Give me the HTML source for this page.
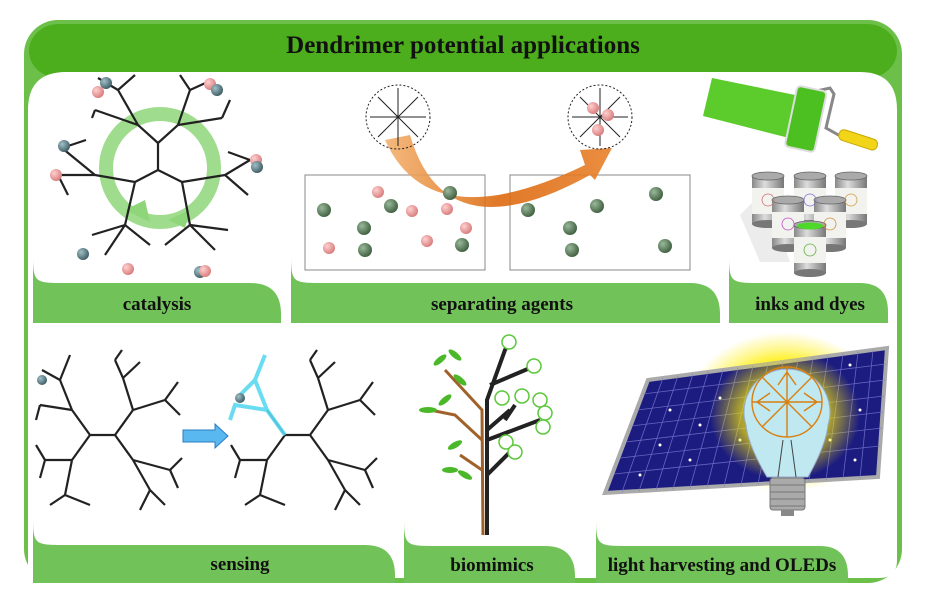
<!DOCTYPE html>
<html><head><meta charset="utf-8"><style>
html,body{margin:0;padding:0;background:#fff;}
svg{display:block;font-family:"Liberation Serif",serif;font-weight:bold;}
</style></head><body>
<svg width="926" height="594" viewBox="0 0 926 594" xmlns="http://www.w3.org/2000/svg">
<defs>
<radialGradient id="glow" cx="0.5" cy="0.5" r="0.5">
<stop offset="0" stop-color="#ffff30" stop-opacity="1"/>
<stop offset="0.6" stop-color="#ffee00" stop-opacity="0.85"/>
<stop offset="1" stop-color="#ffee00" stop-opacity="0"/>
</radialGradient>
<linearGradient id="org" x1="0" y1="0" x2="1" y2="0">
<stop offset="0" stop-color="#f3b270"/><stop offset="0.5" stop-color="#dc6a10"/><stop offset="1" stop-color="#e8802a"/>
</linearGradient>
<linearGradient id="can" x1="0" y1="0" x2="1" y2="0">
<stop offset="0" stop-color="#888"/><stop offset="0.4" stop-color="#ddd"/><stop offset="1" stop-color="#777"/>
</linearGradient>
<radialGradient id="gb" cx="0.35" cy="0.35" r="0.7"><stop offset="0" stop-color="#9ab89a"/><stop offset="1" stop-color="#3e5e3e"/></radialGradient>
<radialGradient id="pb" cx="0.35" cy="0.35" r="0.7"><stop offset="0" stop-color="#ffd0d0"/><stop offset="1" stop-color="#d77a7a"/></radialGradient>
<radialGradient id="tb" cx="0.35" cy="0.35" r="0.7"><stop offset="0" stop-color="#a0c0c8"/><stop offset="1" stop-color="#3d5a62"/></radialGradient>
<g id="can1">
<rect x="-16" y="0" width="32" height="48" fill="url(#can)"/>
<rect x="-16" y="12" width="32" height="26" fill="#f2f2ee"/>
<ellipse cx="0" cy="0" rx="16" ry="4" fill="#aaa" stroke="#666" stroke-width="0.8"/>
<ellipse cx="0" cy="48" rx="16" ry="4" fill="#777"/>
</g>
</defs>
<!-- frame -->
<rect x="24" y="20" width="878" height="563" rx="34" fill="#6cc04a"/>
<rect x="29" y="24" width="868" height="54" rx="30" fill="#4cae1c"/>
<path d="M28,110 Q28,72 66,72 L860,72 Q897,72 897,110 L897,560 Q897,578 879,578 L28,578 Z" fill="#fff"/>
<text x="463" y="53" text-anchor="middle" font-size="25" fill="#111">Dendrimer potential applications</text>

<!-- tabs -->
<g fill="#72c25a">
<path d="M33,250 C33,283 33,283 66,283 L250,283 Q281,283 281,314 L281,323 L33,323 Z"/>
<path d="M291,250 C291,283 291,283 324,283 L690,283 Q720,283 720,314 L720,323 L291,323 Z"/>
<path d="M729,250 C729,283 729,283 762,283 L860,283 Q888,283 888,312 L888,323 L729,323 Z"/>
<path d="M33,512 C33,545 33,545 66,545 L365,545 Q395,545 395,575 L395,583 L33,583 Z"/>
<path d="M404,512 C404,546 404,546 437,546 L545,546 Q575,546 575,576 L575,583 L404,583 Z"/>
<path d="M596,512 C596,546 596,546 629,546 L820,546 Q848,546 848,576 L848,583 L596,583 Z"/>
</g>
<g font-size="19" fill="#111" text-anchor="middle">
<text x="157" y="310">catalysis</text>
<text x="502" y="310">separating agents</text>
<text x="810" y="310">inks and dyes</text>
<text x="240" y="570">sensing</text>
<text x="492" y="571">biomimics</text>
<text x="722" y="571">light harvesting and OLEDs</text>
</g>

<!-- catalysis -->
<circle cx="160" cy="168" r="54" fill="none" stroke="#8fd67a" stroke-width="14" opacity="0.85"/>
<path d="M125,210 L150,222 L145,200 Z M168,220 L190,210 L185,228 Z" fill="#8fd67a"/>
<g stroke="#222" stroke-width="2.2" fill="none">
<path d="M158,143 L158,170 M158,143 L138,125 M158,143 L178,125 M158,170 L135,182 M158,170 L182,182"/>
<path d="M138,125 L118,90 M138,125 L95,110 M118,90 L98,78 M118,90 L135,75 M95,110 L92,118"/>
<path d="M178,125 L190,90 M178,125 L222,118 M190,90 L212,80 M190,90 L180,75 M222,118 L230,100"/>
<path d="M135,182 L95,175 M135,182 L125,225 M95,175 L62,148 M95,175 L58,175 M62,148 L86,140 M58,175 L68,195"/>
<path d="M182,182 L225,175 M182,182 L190,225 M225,175 L250,160 M225,175 L248,195 M250,160 L228,152"/>
<path d="M125,225 L92,235 M125,225 L105,255 M125,225 L150,245 M190,225 L165,245 M190,225 L215,250 M190,225 L228,230"/>
</g>
<g>
<circle cx="106" cy="83" r="6" fill="url(#tb)"/><circle cx="98" cy="92" r="6" fill="url(#pb)"/>
<circle cx="210" cy="84" r="6" fill="url(#pb)"/><circle cx="217" cy="90" r="6" fill="url(#tb)"/>
<circle cx="64" cy="146" r="6" fill="url(#tb)"/><circle cx="56" cy="175" r="6" fill="url(#pb)"/>
<circle cx="256" cy="160" r="6" fill="url(#pb)"/><circle cx="257" cy="167" r="6" fill="url(#tb)"/>
<circle cx="83" cy="254" r="6" fill="url(#tb)"/><circle cx="128" cy="269" r="6" fill="url(#pb)"/>
<circle cx="200" cy="272" r="6" fill="url(#tb)"/><circle cx="205" cy="271" r="6" fill="url(#pb)"/>
</g>

<!-- separating -->
<rect x="305" y="175" width="180" height="95" fill="none" stroke="#888" stroke-width="1"/>
<rect x="510" y="175" width="180" height="95" fill="none" stroke="#888" stroke-width="1"/>
<path d="M385,140 Q430,240 585,165 L580,150 L612,148 L595,180 L590,175 Q445,255 410,135 Z" fill="url(#org)" opacity="0.9"/>
<g stroke="#222" stroke-width="1" fill="none">
<circle cx="398" cy="117" r="32" stroke-dasharray="2 2"/>
<circle cx="600" cy="117" r="32" stroke-dasharray="2 2"/>
<path d="M398,117 L398,88 M398,117 L370,117 M398,117 L426,117 M398,117 L398,146 M398,117 L378,97 M398,117 L418,97 M398,117 L378,137 M398,117 L418,137"/>
<path d="M600,117 L600,88 M600,117 L572,117 M600,117 L628,117 M600,117 L600,146 M600,117 L580,97 M600,117 L620,97 M600,117 L580,137 M600,117 L620,137"/>
</g>
<circle cx="593" cy="108" r="6" fill="url(#pb)"/><circle cx="608" cy="115" r="6" fill="url(#pb)"/><circle cx="598" cy="130" r="6" fill="url(#pb)"/>
<g fill="url(#gb)">
<circle cx="324" cy="210" r="7"/><circle cx="364" cy="228" r="7"/><circle cx="365" cy="250" r="7"/><circle cx="391" cy="206" r="7"/><circle cx="450" cy="193" r="7"/><circle cx="462" cy="245" r="7"/>
<circle cx="528" cy="210" r="7"/><circle cx="597" cy="206" r="7"/><circle cx="656" cy="194" r="7"/><circle cx="570" cy="228" r="7"/><circle cx="572" cy="250" r="7"/><circle cx="665" cy="246" r="7"/>
</g>
<g fill="url(#pb)">
<circle cx="378" cy="192" r="6"/><circle cx="412" cy="211" r="6"/><circle cx="329" cy="248" r="6"/><circle cx="427" cy="241" r="6"/><circle cx="447" cy="209" r="6"/><circle cx="466" cy="228" r="6"/>
</g>

<!-- inks: roller -->
<polygon points="712,78 800,96 797,140 703,116" fill="#5ccc2c"/>
<path d="M812,92 L830,88 L834,94 L826,128 L842,137" stroke="#888" stroke-width="3" fill="none"/>
<g transform="rotate(12 806 118)">
<rect x="791" y="88" width="30" height="62" rx="4" fill="#4cc020" stroke="#ddd" stroke-width="2"/>
</g>
<g transform="rotate(18 857 140)">
<rect x="838" y="134" width="40" height="11" rx="5" fill="#f2d418" stroke="#c8a800" stroke-width="1"/>
</g>
<!-- cans -->
<polygon points="765,190 740,215 760,262 790,262" fill="#e4e4e4" opacity="0.7"/>
<use href="#can1" x="768" y="176"/>
<use href="#can1" x="810" y="176"/>
<use href="#can1" x="851" y="176"/>
<use href="#can1" x="788" y="200"/>
<use href="#can1" x="830" y="200"/>
<use href="#can1" x="810" y="225"/>
<ellipse cx="810" cy="226" rx="13" ry="3.5" fill="#4ed82a"/>
<g fill="none" stroke-width="0.8">
<circle cx="768" cy="200" r="6" stroke="#d07070"/><circle cx="810" cy="200" r="6" stroke="#8070d0"/><circle cx="851" cy="200" r="6" stroke="#d0a040"/>
<circle cx="788" cy="224" r="6" stroke="#c050c0"/><circle cx="830" cy="224" r="6" stroke="#d09040"/><circle cx="810" cy="250" r="6" stroke="#60b040"/>
</g>

<!-- sensing -->
<g stroke="#222" stroke-width="2.2" fill="none">
<path d="M90,435 L115,435 M90,435 L72,410 M90,435 L72,460 M115,435 L133,410 M115,435 L133,460"/>
<path d="M72,410 L60,380 M72,410 L40,405 M60,380 L42,370 M60,380 L70,355 M40,405 L36,420 M72,460 L45,460 M72,460 L65,495 M45,460 L36,445 M45,460 L40,478 M65,495 L50,505 M65,495 L90,505"/>
<path d="M133,410 L123,378 M133,410 L165,400 M123,378 L115,360 M123,378 L140,362 M165,400 L178,382 M165,400 L180,415 M133,460 L150,490 M133,460 L170,470 M150,490 L140,510 M150,490 L165,505 M170,470 L182,458 M170,470 L178,488 M115,360 L122,350"/>
<g transform="translate(195 0)">
<path d="M90,435 L115,435 M90,435 L72,410 M90,435 L72,460 M115,435 L133,410 M115,435 L133,460"/>
<path d="M72,460 L45,460 M72,460 L65,495 M45,460 L36,445 M45,460 L40,478 M65,495 L50,505 M65,495 L90,505"/>
<path d="M133,410 L123,378 M133,410 L165,400 M123,378 L115,360 M123,378 L140,362 M165,400 L178,382 M165,400 L180,415 M133,460 L150,490 M133,460 L170,470 M150,490 L140,510 M150,490 L165,505 M170,470 L182,458 M170,470 L178,488 M115,360 L122,350"/>
</g>
</g>
<g stroke="#5ad8f0" stroke-width="4" fill="none" opacity="0.9">
<path d="M285,435 L267,410 L255,380 L240,395 M255,380 L265,355 M267,410 L235,405 L230,420"/>
</g>
<circle cx="42" cy="380" r="5" fill="url(#tb)"/><circle cx="240" cy="398" r="5" fill="url(#tb)"/>
<path d="M183,430 L215,430 L215,424 L228,436 L215,448 L215,442 L183,442 Z" fill="#5ab8f0" stroke="#2a7cc0" stroke-width="1"/>

<!-- biomimics -->
<path d="M483,535 L482,410 L445,370 M482,440 L455,415 L430,410 M482,470 L460,455" stroke="#a0622a" stroke-width="3" fill="none"/>
<path d="M487,535 L487,400 L505,350 L508,345 M490,385 L530,368 M487,430 L510,410 M487,440 L540,420 M505,420 L515,405 M487,475 L512,450" stroke="#222" stroke-width="4" fill="none"/>
<g fill="#4ab828">
<ellipse cx="440" cy="360" rx="8" ry="3" transform="rotate(-40 440 360)"/><ellipse cx="455" cy="355" rx="8" ry="3" transform="rotate(40 455 355)"/>
<ellipse cx="428" cy="410" rx="9" ry="3"/><ellipse cx="445" cy="400" rx="8" ry="3" transform="rotate(-40 445 400)"/>
<ellipse cx="460" cy="380" rx="8" ry="3" transform="rotate(40 460 380)"/><ellipse cx="455" cy="445" rx="8" ry="3" transform="rotate(-30 455 445)"/>
<ellipse cx="465" cy="475" rx="8" ry="3" transform="rotate(30 465 475)"/><ellipse cx="450" cy="470" rx="8" ry="3"/>
</g>
<g fill="#fff" stroke="#5ac83a" stroke-width="1.5">
<circle cx="509" cy="342" r="7"/><circle cx="534" cy="366" r="7"/><circle cx="502" cy="398" r="7"/><circle cx="522" cy="396" r="7"/><circle cx="540" cy="400" r="7"/><circle cx="545" cy="413" r="7"/><circle cx="543" cy="427" r="7"/><circle cx="506" cy="442" r="7"/><circle cx="515" cy="452" r="7"/>
</g>

<!-- light harvesting -->
<ellipse cx="785" cy="412" rx="100" ry="80" fill="url(#glow)"/>
<polygon points="648,380 887,348 878,477 605,493" fill="#1c1c80" stroke="#aaa" stroke-width="4"/>
<g stroke="#7878d0" stroke-width="0.8" opacity="0.8">
<path d="M663,378 L622,492 M678,376 L639,491 M693,374 L656,490 M708,372 L673,489 M723,370 L690,488 M738,368 L707,487 M753,366 L724,486 M768,364 L741,485 M783,362 L758,484 M798,360 L775,483 M813,358 L792,482 M828,356 L809,481 M843,354 L826,480 M858,352 L843,479 M873,350 L860,478"/>
<path d="M643,394 L886,364 M637,410 L885,380 M631,426 L884,396 M626,442 L883,412 M620,458 L882,428 M614,474 L880,446"/>
</g>
<g fill="#fff">
<circle cx="670" cy="410" r="1.5"/><circle cx="700" cy="425" r="1.5"/><circle cx="660" cy="445" r="1.5"/><circle cx="690" cy="460" r="1.5"/><circle cx="720" cy="398" r="1.5"/><circle cx="740" cy="440" r="1.5"/><circle cx="850" cy="365" r="1.5"/><circle cx="860" cy="410" r="1.5"/><circle cx="855" cy="460" r="1.5"/><circle cx="830" cy="440" r="1.5"/><circle cx="640" cy="475" r="1.5"/>
</g>
<ellipse cx="785" cy="415" rx="75" ry="65" fill="url(#glow)" opacity="0.75"/>
<path d="M767,477 Q748,445 746,425 A43,43 0 1 1 828,425 Q826,445 808,477 Z" fill="#bfe8f0" stroke="#9ac" stroke-width="1"/>
<g stroke="#d88010" stroke-width="1.4" fill="none">
<circle cx="787" cy="402" r="35"/>
<path d="M787,402 L787,367 M787,402 L752,402 M787,402 L822,402 M787,402 L787,437 M787,402 L762,377 M787,402 L812,377 M787,402 L762,427 M787,402 L812,427 M787,372 L778,385 M787,372 L796,385 M757,402 L770,393 M757,402 L770,411 M817,402 L804,393 M817,402 L804,411"/>
</g>
<path d="M783,440 L778,477 M791,440 L796,477" stroke="#444" stroke-width="1"/>
<rect x="770" y="478" width="35" height="32" rx="3" fill="#aaa" stroke="#777"/>
<path d="M770,485 L805,485 M770,492 L805,492 M770,499 L805,499 M770,506 L805,506" stroke="#777"/>
<rect x="781" y="510" width="13" height="6" fill="#888"/>
</svg>
</body></html>
